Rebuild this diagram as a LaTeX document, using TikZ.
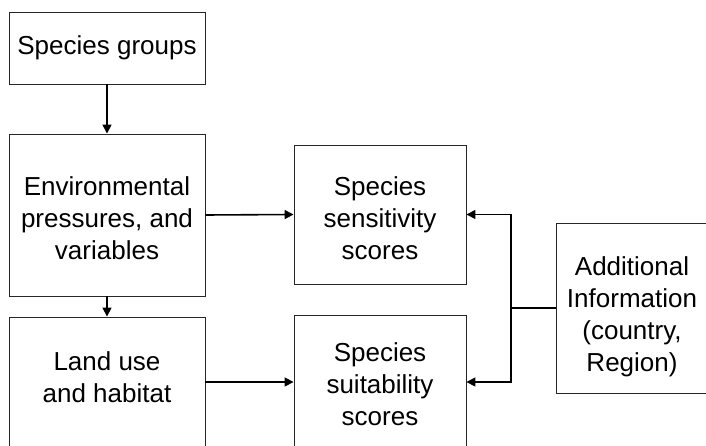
\documentclass[tikz,border=0pt]{standalone}
\usepackage{fontspec}
\setmainfont{Liberation Sans}
\usetikzlibrary{arrows.meta}
\begin{document}
\begin{tikzpicture}[x=1pt,y=-1pt,
  box/.style={draw=black!85,line width=0.9pt,inner sep=0pt},
  txt/.style={align=center,font=\fontsize{26}{32}\selectfont,inner sep=0pt},
  conn/.style={line width=1.6pt,-{Triangle[length=9pt,width=9pt]}},
  plain/.style={line width=1.6pt}]
\useasboundingbox (0,0) rectangle (706,446);
\clip (0,0) rectangle (706,446);
\node[box,minimum width=196pt,minimum height=72pt] (sg) at (107,48) {};
\node[txt] (sgt) at (sg.center) {Species groups};
\node[box,minimum width=196pt,minimum height=162pt] (env) at (107,215) {};
\node[txt] (envt) at (107,218) {Environmental\\pressures, and\\variables};
\node[box,minimum width=196pt,minimum height=130pt] (land) at (107,382) {};
\node[txt] (landt) at (107,377) {Land use\\and habitat};
\node[box,minimum width=172pt,minimum height=139pt] (sens) at (380,214.5) {};
\node[txt] (senst) at (380,218) {Species\\sensitivity\\scores};
\node[box,minimum width=172pt,minimum height=134pt] (suit) at (380,382) {};
\node[txt] (suitt) at (380,384) {Species\\suitability\\scores};
\node[box,minimum width=170pt,minimum height=170pt] (addl) at (641,308) {};
\node[txt] (addlt) at (632,317) {Additional\\Information\\(country,\\Region)};
\coordinate (j) at (511,308);
\draw[conn] (sg.south) -- (env.north);
\draw[conn] (env.south) -- (land.north);
\draw[conn] (env.east) -- (sens.west);
\draw[conn] (land.east) -- (suit.west);
\draw[plain] (addl.west) -- (j);
\draw[conn] (j) |- (sens.east);
\draw[conn] (j) |- (suit.east);
\end{tikzpicture}
\end{document}
